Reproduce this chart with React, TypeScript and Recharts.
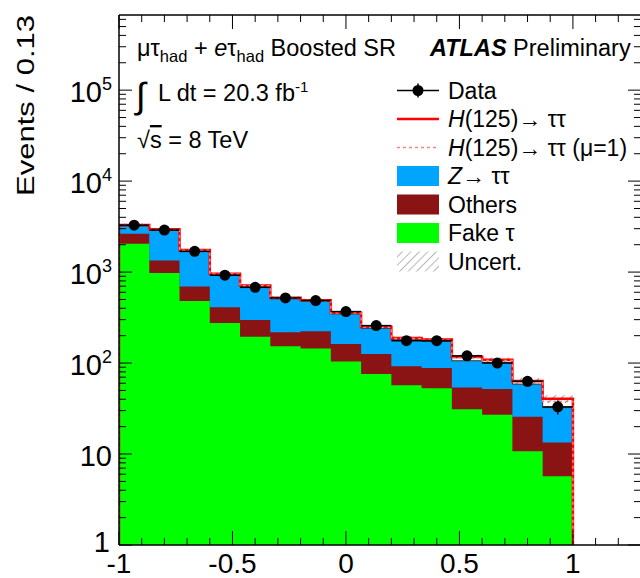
import { ComposedChart, Area, Line, Scatter, ErrorBar, XAxis, YAxis } from "recharts";

const FONT = '"Liberation Sans", Arial, Helvetica, sans-serif';

// 15 BDT bins of width 2/15 between -1 and 1
const N_BINS = 15;
const BIN_EDGES = Array.from({ length: N_BINS + 1 }, (_, i) => -1 + (2 * i) / N_BINS);
const HALF_BIN = 1 / N_BINS;

// expected events per bin
const FAKE_TAU = [2050, 980, 480, 275, 195, 153, 145, 104, 76, 57, 53, 31, 27, 10.7, 5.7];
const OTHERS = [590, 360, 215, 135, 103, 65, 78, 58, 50, 35, 35, 23, 25, 15, 7.7];
const Z_TAUTAU = [560, 1530, 1005, 520, 395, 290, 255, 185, 115, 89, 85, 52, 50, 33, 19];
const HIGGS = [100, 80, 50, 30, 20, 15, 13, 10, 9, 8, 8, 11, 7, 5, 8];
const HIGGS_MU1 = [70, 55, 35, 21, 14, 10, 9, 7, 6, 5.5, 5.5, 7.5, 5, 3.5, 5.5];
const TOTAL_UNC = [110, 90, 55, 32, 24, 19, 17, 13, 10, 8, 8, 7, 6, 5, 4];

// observed events per bin
const DATA = [3280, 2900, 1690, 925, 680, 520, 487, 368, 258, 176, 176, 120, 100, 63, 33];

const Y_MIN = 1;
const Y_MAX = 6.7e5;
const Y_MAJOR = [1, 10, 100, 1e3, 1e4, 1e5];
const Y_TICKS = Y_MAJOR.flatMap((d) => [1, 2, 3, 4, 5, 6, 7, 8, 9].map((m) => m * d)).filter((v) => v <= Y_MAX);
const X_TICKS = [-1, -0.9, -0.8, -0.7, -0.6, -0.5, -0.4, -0.3, -0.2, -0.1, 0, 0.1, 0.2, 0.3, 0.4, 0.5, 0.6, 0.7, 0.8, 0.9, 1, 1.1, 1.2, 1.3];

const C_Z = "#00a5ff";
const C_OTHERS = "#8a1414";
const C_FAKE = "#00ff00";

const binRow = (x: number, i: number) => {
  const fakeOthers = FAKE_TAU[i] + OTHERS[i];
  const bkg = fakeOthers + Z_TAUTAU[i];
  const total = bkg + HIGGS[i];
  return {
    x,
    fake: FAKE_TAU[i],
    fakeOthers,
    bkg,
    total,
    totalMu1: bkg + HIGGS_MU1[i],
    band: [total - TOTAL_UNC[i], total + TOTAL_UNC[i]],
  };
};
const floorRow = (x: number) => ({
  x,
  fake: Y_MIN,
  fakeOthers: Y_MIN,
  bkg: Y_MIN,
  total: Y_MIN,
  totalMu1: Y_MIN,
  band: [Y_MIN, Y_MIN],
});

// step rows at bin edges, dropping to the floor at both ends
const stepRows = [
  floorRow(BIN_EDGES[0]),
  ...BIN_EDGES.slice(0, N_BINS).map((x, i) => binRow(x, i)),
  binRow(BIN_EDGES[N_BINS], N_BINS - 1),
  floorRow(BIN_EDGES[N_BINS]),
];

const dataRows = DATA.map((n, i) => ({
  x: BIN_EDGES[i] + HALF_BIN,
  y: n,
  ey: Math.sqrt(n),
  ex: HALF_BIN,
}));

const AXIS_LINE = { stroke: "#000", strokeWidth: 1.5 };

const isMajorX = (v: number) => Math.abs(v * 2 - Math.round(v * 2)) < 1e-6;

const BottomTick = (props: any) => {
  const { x, y, payload } = props;
  const major = isMajorX(payload.value);
  return (
    <g>
      <line x1={x} x2={x} y1={y} y2={y - (major ? 14 : 7)} stroke="#000" />
      {major && payload.value <= 1 && (
        <text x={x} y={y + 28} textAnchor="middle" fontFamily={FONT} fontSize={28} fill="#000">
          {String(payload.value)}
        </text>
      )}
    </g>
  );
};

const TopTick = (props: any) => {
  const { x, y, payload } = props;
  const major = isMajorX(payload.value);
  return <line x1={x} x2={x} y1={y} y2={y + (major ? 14 : 7)} stroke="#000" />;
};

const LeftTick = (props: any) => {
  const { x, y, payload } = props;
  const v = payload.value;
  const major = Y_MAJOR.includes(v);
  const exp = Math.round(Math.log10(v));
  return (
    <g>
      <line x1={x} x2={x + (major ? 13 : 7)} y1={y} y2={y} stroke="#000" />
      {major && (
        <text
          x={x - (v === 1 ? 9 : 7)}
          y={y + (v === 1 ? 7 : 12)}
          textAnchor="end"
          fontFamily={FONT}
          fontSize={29}
          fill="#000"
        >
          {exp <= 1 ? (
            String(v)
          ) : (
            <>
              10
              <tspan dy={-12} fontSize={18}>
                {exp}
              </tspan>
            </>
          )}
        </text>
      )}
    </g>
  );
};

const RightTick = (props: any) => {
  const { x, y, payload } = props;
  const major = Y_MAJOR.includes(payload.value);
  return <line x1={x} x2={x - (major ? 13 : 7)} y1={y} y2={y} stroke="#000" />;
};

const DataDot = (props: any) => <circle cx={props.cx} cy={props.cy} r={5.5} fill="#000" />;

const LEGEND_X = 397;
const LEGEND_TEXT_X = 448;
const ROW_Y = [90.5, 119, 147.5, 176, 204.5, 233, 261.5];

const Legend = () => (
  <g fontFamily={FONT} fontSize={23} fill="#000">
    <line x1={LEGEND_X} x2={LEGEND_X + 42} y1={ROW_Y[0]} y2={ROW_Y[0]} stroke="#000" strokeWidth={1.5} />
    <line x1={LEGEND_X + 21} x2={LEGEND_X + 21} y1={ROW_Y[0] - 7} y2={ROW_Y[0] + 7} stroke="#000" strokeWidth={1.5} />
    <circle cx={LEGEND_X + 21} cy={ROW_Y[0]} r={5.5} fill="#000" />
    <text x={LEGEND_TEXT_X} y={ROW_Y[0] + 8}>Data</text>

    <line x1={LEGEND_X} x2={LEGEND_X + 42} y1={ROW_Y[1]} y2={ROW_Y[1]} stroke="#ff0000" strokeWidth={2.5} />
    <text x={LEGEND_TEXT_X} y={ROW_Y[1] + 8}>
      <tspan fontStyle="italic">H</tspan>(125)→ ττ
    </text>

    <line x1={LEGEND_X} x2={LEGEND_X + 42} y1={ROW_Y[2]} y2={ROW_Y[2]} stroke="#ff8080" strokeWidth={1.5} strokeDasharray="3 3" />
    <text x={LEGEND_TEXT_X} y={ROW_Y[2] + 8}>
      <tspan fontStyle="italic">H</tspan>(125)→ ττ (μ=1)
    </text>

    <rect x={LEGEND_X} y={ROW_Y[3] - 10} width={42} height={20} fill={C_Z} />
    <text x={LEGEND_TEXT_X} y={ROW_Y[3] + 8}>
      <tspan fontStyle="italic">Z</tspan>→ ττ
    </text>

    <rect x={LEGEND_X} y={ROW_Y[4] - 10} width={42} height={20} fill={C_OTHERS} />
    <text x={LEGEND_TEXT_X} y={ROW_Y[4] + 8}>Others</text>

    <rect x={LEGEND_X} y={ROW_Y[5] - 10} width={42} height={20} fill={C_FAKE} />
    <text x={LEGEND_TEXT_X} y={ROW_Y[5] + 8}>Fake τ</text>

    <rect x={LEGEND_X} y={ROW_Y[6] - 10} width={42} height={20} fill="url(#unc-hatch-legend)" />
    <text x={LEGEND_TEXT_X} y={ROW_Y[6] + 8}>Uncert.</text>
  </g>
);

const Labels = () => (
  <svg
    width={640}
    height={578}
    style={{ position: "absolute", left: 0, top: 0, pointerEvents: "none" }}
  >
    <defs>
      <pattern id="unc-hatch-legend" width="6" height="6" patternUnits="userSpaceOnUse" patternTransform="rotate(45)">
        <line x1="0" y1="0" x2="0" y2="6" stroke="#888" strokeWidth="1.2" />
      </pattern>
    </defs>
    <text
      transform="translate(34,15) rotate(-90) scale(1,0.8)"
      textAnchor="end"
      fontFamily={FONT}
      fontSize={31}
      fill="#000"
    >
      Events / 0.13
    </text>

    <g fontFamily={FONT} fill="#000">
      <text x={137} y={56} fontSize={23.5}>
        μτ
        <tspan dy={6} fontSize={16.5}>had</tspan>
        <tspan dy={-6}>{" + "}</tspan>
        <tspan fontStyle="italic">e</tspan>τ
        <tspan dy={6} fontSize={16.5}>had</tspan>
        <tspan dy={-6}>{" Boosted SR"}</tspan>
      </text>
      <text x={136} y={108} fontSize={36}>∫</text>
      <text x={158} y={101} fontSize={23.5}>
        L dt = 20.3 fb
        <tspan dy={-9} fontSize={15}>-1</tspan>
      </text>
      <text x={137} y={148} fontSize={23.5}>
        √<tspan style={{ textDecoration: "overline" }}>s</tspan>
        {" = 8 TeV"}
      </text>
      <text x={430} y={56} fontSize={23.5}>
        <tspan fontWeight="bold" fontStyle="italic">ATLAS</tspan>
        {" Preliminary"}
      </text>
    </g>
    <Legend />
  </svg>
);

export default function App() {
  return (
    <div
      style={{
        position: "absolute",
        left: 0,
        top: 0,
        width: 640,
        height: 578,
        overflow: "hidden",
        background: "#fff",
      }}
    >
      <ComposedChart width={660} height={578} data={stepRows} margin={{ top: 14, right: 18, bottom: 0, left: 0 }}>
        <defs>
          <pattern id="unc-hatch" width="6" height="6" patternUnits="userSpaceOnUse" patternTransform="rotate(45)">
            <line x1="0" y1="0" x2="0" y2="6" stroke="#444" strokeWidth="1" />
          </pattern>
        </defs>

        <Area type="stepAfter" dataKey="bkg" fill={C_Z} fillOpacity={1} stroke="none" baseValue={Y_MIN} isAnimationActive={false} />
        <Area type="stepAfter" dataKey="fakeOthers" fill={C_OTHERS} fillOpacity={1} stroke="none" baseValue={Y_MIN} isAnimationActive={false} />
        <Area type="stepAfter" dataKey="fake" fill={C_FAKE} fillOpacity={1} stroke="none" baseValue={Y_MIN} isAnimationActive={false} />
        <Area type="stepAfter" dataKey="band" fill="url(#unc-hatch)" fillOpacity={1} stroke="none" isAnimationActive={false} />

        <Line type="stepAfter" dataKey="bkg" stroke="#333" strokeWidth={1} dot={false} isAnimationActive={false} />
        <Line type="stepAfter" dataKey="total" stroke="#ff0000" strokeWidth={2.5} dot={false} isAnimationActive={false} />
        <Line type="stepAfter" dataKey="totalMu1" stroke="#ff8080" strokeWidth={1.5} strokeDasharray="3 3" dot={false} isAnimationActive={false} />

        <Scatter data={dataRows} dataKey="y" shape={DataDot} isAnimationActive={false}>
          <ErrorBar dataKey="ey" direction="y" width={0} stroke="#000" strokeWidth={1.5} />
          <ErrorBar dataKey="ex" direction="x" width={0} stroke="#000" strokeWidth={1.5} />
        </Scatter>

        <XAxis
          dataKey="x"
          type="number"
          domain={[-1, 1.3]}
          allowDataOverflow
          ticks={X_TICKS}
          interval={0}
          height={33}
          tickSize={0}
          tickMargin={0}
          tickLine={false}
          axisLine={AXIS_LINE}
          tick={BottomTick}
        />
        <XAxis
          xAxisId="top"
          orientation="top"
          dataKey="x"
          type="number"
          domain={[-1, 1.3]}
          allowDataOverflow
          ticks={X_TICKS}
          interval={0}
          height={1}
          tickSize={0}
          tickMargin={0}
          tickLine={false}
          axisLine={AXIS_LINE}
          tick={TopTick}
        />
        <YAxis
          type="number"
          scale="log"
          domain={[Y_MIN, Y_MAX]}
          allowDataOverflow
          ticks={Y_TICKS}
          interval={0}
          width={119}
          tickSize={0}
          tickMargin={0}
          tickLine={false}
          axisLine={AXIS_LINE}
          tick={LeftTick}
        />
        <YAxis
          yAxisId="right"
          orientation="right"
          type="number"
          scale="log"
          domain={[Y_MIN, Y_MAX]}
          allowDataOverflow
          ticks={Y_TICKS}
          interval={0}
          width={1}
          tickSize={0}
          tickMargin={0}
          tickLine={false}
          axisLine={AXIS_LINE}
          tick={RightTick}
        />
      </ComposedChart>
      <Labels />
    </div>
  );
}
